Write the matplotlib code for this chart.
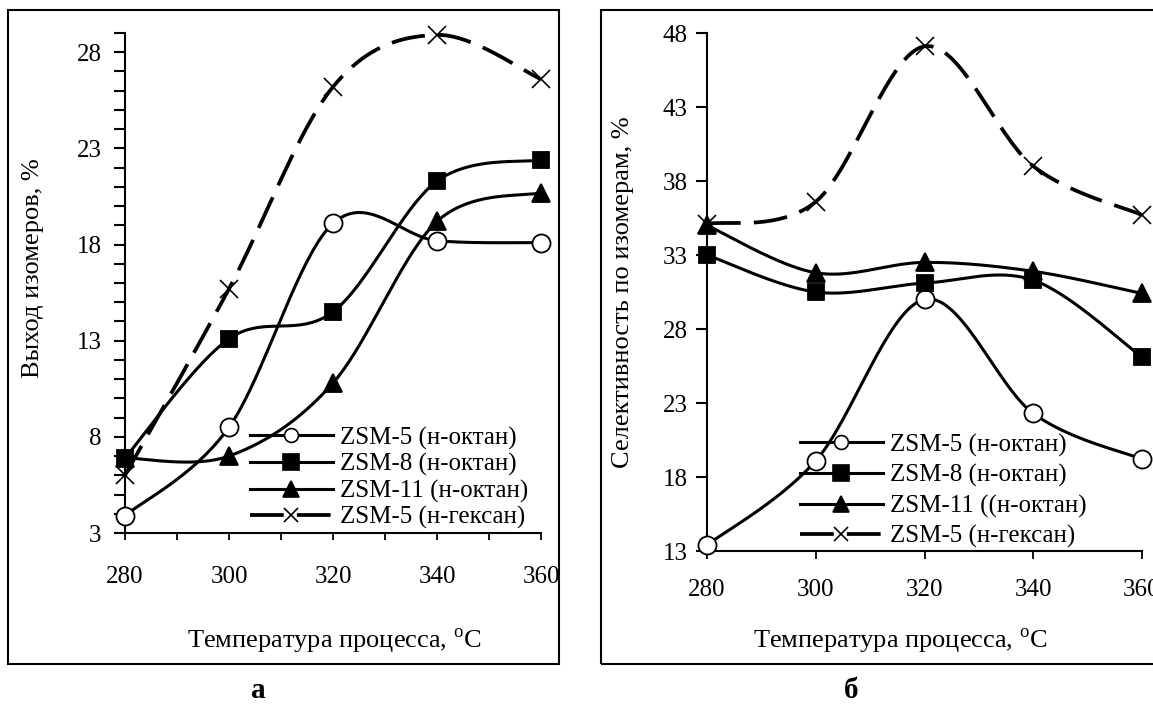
import numpy as np
import matplotlib
matplotlib.use("Agg")
import matplotlib.pyplot as plt
from matplotlib.lines import Line2D
from matplotlib.patches import Rectangle
from matplotlib.ticker import MultipleLocator, FixedLocator

plt.rcParams['font.family'] = ['Liberation Serif', 'DejaVu Serif']
plt.rcParams['mathtext.fontset'] = 'custom'
plt.rcParams['mathtext.rm'] = 'Liberation Serif'

# температура процесса, °C
temps = [280, 300, 320, 340, 360]

labels_a = ['ZSM-5 (н-октан)', 'ZSM-8 (н-октан)', 'ZSM-11 (н-октан)', 'ZSM-5 (н-гексан)']
labels_b = ['ZSM-5 (н-октан)', 'ZSM-8 (н-октан)', 'ZSM-11 ((н-октан)', 'ZSM-5 (н-гексан)']

# (а) выход изомеров, %
yield_zsm5_oct = [3.9, 8.5, 19.1, 18.2, 18.1]
yield_zsm8_oct = [6.9, 13.1, 14.5, 21.3, 22.4]
yield_zsm11_oct = [6.9, 7.0, 10.8, 19.2, 20.7]
yield_zsm5_hex = [6.0, 15.7, 26.2, 28.9, 26.6]
yticks_a = [3, 8, 13, 18, 23, 28]

# (б) селективность по изомерам, %
sel_zsm5_oct = [13.4, 19.1, 30.0, 22.3, 19.2]
sel_zsm8_oct = [33.0, 30.5, 31.1, 31.3, 26.1]
sel_zsm11_oct = [35.0, 31.8, 32.5, 31.9, 30.4]
sel_zsm5_hex = [35.1, 36.6, 47.1, 39.0, 35.7]
yticks_b = [13, 18, 23, 28, 33, 38, 43, 48]

W, H = 1153, 706
LW = 2.2
DASH = (9, 3.5)

# маркеры: (marker, facecolor, size on plot, size in legend)
styles = [
    ('o', 'white', 13, 10),
    ('s', 'black', 12, 12),
    ('^', 'black', 13, 12),
    ('x', 'black', 13, 10),
]


def smooth(ax, xs, ys, n=40):
    # сглаживание как в Excel (кривые Безье), считается в пикселях
    pts = ax.transData.transform(np.column_stack([xs, ys]))
    p = np.vstack([pts[0], pts, pts[-1]])
    t = np.linspace(0, 1, n)[:, None]
    out = []
    for i in range(1, len(p) - 2):
        p0, p1, p2, p3 = p[i - 1], p[i], p[i + 1], p[i + 2]
        c1 = p1 + (p2 - p0) / 6
        c2 = p2 - (p3 - p1) / 6
        out.append((1 - t) ** 3 * p1 + 3 * (1 - t) ** 2 * t * c1
                   + 3 * (1 - t) * t ** 2 * c2 + t ** 3 * p2)
    curve = ax.transData.inverted().transform(np.vstack(out))
    return curve[:, 0], curve[:, 1]


def draw_panel(ax, series, labels, legend_anchor, labelspacing):
    handles = []
    for vals, (mk, fc, ms, lms), lab in zip(series, styles, labels):
        dashed = lab.endswith('гексан)')
        lw = 2.7 if dashed else LW
        sx, sy = smooth(ax, temps, vals)
        line, = ax.plot(sx, sy, color='black', lw=lw, clip_on=False)
        if dashed:
            line.set_dashes(DASH)
        ax.plot(temps, vals, linestyle='none', marker=mk, ms=ms,
                mfc=fc, mec='black', mew=1.3 if mk != 'x' else 1.2,
                clip_on=False, zorder=3)
        h = Line2D([], [], color='black', lw=lw, marker=mk, ms=lms,
                   mfc=fc, mec='black', mew=1.2)
        if dashed:
            h.set_dashes(DASH)
        handles.append(h)
    ax.legend(handles, labels, loc='center left', bbox_to_anchor=legend_anchor,
              bbox_transform=ax.figure.transFigure, frameon=False, fontsize=18,
              handlelength=3.3, handletextpad=0.3, labelspacing=labelspacing,
              borderpad=0, borderaxespad=0, numpoints=1)
    for s in ('top', 'right'):
        ax.spines[s].set_visible(False)
    for s in ('left', 'bottom'):
        ax.spines[s].set_linewidth(1.5)


fig = plt.figure(figsize=(W / 100, H / 100), dpi=100)

# --- панель а ---
ax1 = fig.add_axes([125 / W, 1 - 533 / H, (541 - 125) / W, (533 - 33) / H])
ax1.set_xlim(280, 360)
ax1.set_ylim(3, 29)
ax1.xaxis.set_major_locator(MultipleLocator(20))
ax1.xaxis.set_minor_locator(MultipleLocator(10))
ax1.yaxis.set_major_locator(FixedLocator(yticks_a))
ax1.yaxis.set_minor_locator(MultipleLocator(1))
ax1.tick_params(axis='x', which='both', direction='out', length=5, width=1.3,
                labelsize=18, pad=19)
ax1.tick_params(axis='y', which='both', direction='out', length=8, width=1.5,
                labelsize=18, pad=9)
draw_panel(ax1, [yield_zsm5_oct, yield_zsm8_oct, yield_zsm11_oct, yield_zsm5_hex],
           labels_a, (250 / W, 1 - 478 / H), 0.14)

# --- панель б ---
ax2 = fig.add_axes([707 / W, 1 - 551 / H, (1142 - 707) / W, (551 - 33) / H])
ax2.set_xlim(280, 360)
ax2.set_ylim(13, 48)
ax2.xaxis.set_major_locator(MultipleLocator(20))
ax2.yaxis.set_major_locator(FixedLocator(yticks_b))
ax2.tick_params(axis='x', direction='out', length=6, width=1.3,
                labelsize=18, pad=14)
ax2.tick_params(axis='y', direction='out', length=8, width=1.5,
                labelsize=18, pad=6)
draw_panel(ax2, [sel_zsm5_oct, sel_zsm8_oct, sel_zsm11_oct, sel_zsm5_hex],
           labels_b, (800 / W, 1 - 491 / H), 0.3)

# подписи осей
xlab = 'Температура процесса, $^{\\rm o}$C'
fig.text(334 / W, 1 - 641 / H, xlab, ha='center', va='center', fontsize=19)
fig.text(900 / W, 1 - 641 / H, xlab, ha='center', va='center', fontsize=19)
fig.text(33 / W, 1 - 268 / H, 'Выход изомеров, %', rotation=90,
         ha='center', va='center', fontsize=19)
fig.text(623 / W, 1 - 292 / H, 'Селективность по изомерам, %', rotation=90,
         ha='center', va='center', fontsize=19)

fig.text(258 / W, 1 - 691 / H, 'а', ha='center', va='center', fontsize=21,
         fontweight='bold')
fig.text(851 / W, 1 - 691 / H, 'б', ha='center', va='center', fontsize=21,
         fontweight='bold')

# рамки вокруг панелей
fig.add_artist(Rectangle((8 / W, 1 - 664 / H), (559 - 8) / W, (664 - 10) / H,
                         transform=fig.transFigure, fill=False, lw=1.5, ec='black'))
fig.add_artist(Rectangle((601 / W, 1 - 664 / H), (1175 - 601) / W, (664 - 10) / H,
                         transform=fig.transFigure, fill=False, lw=1.5, ec='black'))

fig.savefig('out.png', dpi=100, facecolor='white')
